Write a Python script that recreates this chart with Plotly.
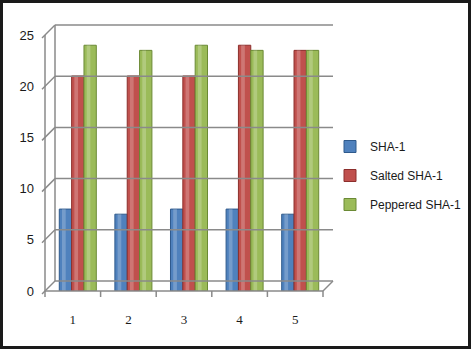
import plotly.graph_objects as go

categories = ["1", "2", "3", "4", "5"]
sha1 = [8, 7.5, 8, 8, 7.5]
salted_sha1 = [21, 21, 21, 24, 23.5]
peppered_sha1 = [24, 23.5, 24, 23.5, 23.5]
y_ticks = [0, 5, 10, 15, 20, 25]

W, H = 471, 349
FX0, FX1 = 45, 323       # front floor x extent (px)
FY0, FY1 = 291, 35       # front y for value 0 and value 25 (px)
DX, DY = 10, 10          # depth offset of back wall (px)
BAR_X0, BAR_X1 = 50, 328

def px(x):
    return x / W

def py(y):
    return 1 - y / H

def val_to_y(v):
    return FY0 + (FY1 - FY0) * v / 25.0

fig = go.Figure()
colors = ["#4F81BD", "#C0504D", "#9BBB59"]
edge_colors = ["#2f5a8c", "#8c2f2c", "#6b8a35"]
names = ["SHA-1", "Salted SHA-1", "Peppered SHA-1"]
bw = 0.222
offsets = [-1.5 * bw, -0.5 * bw, 0.5 * bw]
for name, vals, col, ecol, off in zip(names, [sha1, salted_sha1, peppered_sha1], colors, edge_colors, offsets):
    fig.add_trace(go.Bar(
        x=categories, y=vals, name=name, legendgroup=name,
        width=bw, offset=off,
        marker=dict(color=col, line=dict(color=ecol, width=1)),
    ))
    # cylinder highlight
    fig.add_trace(go.Bar(
        x=categories, y=vals, name=name, legendgroup=name, showlegend=False,
        width=bw * 0.3, offset=off + bw * 0.22, hoverinfo="skip",
        marker=dict(color="rgba(255,255,255,0.22)", line=dict(width=0)),
    ))

shapes = []
line_col = "#8a8a8a"
for t in y_ticks:
    yf = val_to_y(t)
    shapes.append(dict(type="line", xref="paper", yref="paper",
                       x0=px(FX0 + DX), x1=px(FX1 + DX), y0=py(yf - DY), y1=py(yf - DY),
                       line=dict(color=line_col, width=1.5)))
    shapes.append(dict(type="line", xref="paper", yref="paper",
                       x0=px(FX0 - 3), x1=px(FX0 + DX), y0=py(yf + 3), y1=py(yf - DY),
                       line=dict(color=line_col, width=1.5)))
shapes.append(dict(type="line", xref="paper", yref="paper",
                   x0=px(FX0 + DX), x1=px(FX0 + DX), y0=py(FY0 - DY), y1=py(FY1 - DY),
                   line=dict(color=line_col, width=1.5)))
shapes.append(dict(type="line", xref="paper", yref="paper",
                   x0=px(FX0), x1=px(FX0), y0=py(FY0), y1=py(FY1),
                   line=dict(color=line_col, width=1.5)))
shapes.append(dict(type="line", xref="paper", yref="paper",
                   x0=px(FX0), x1=px(FX1), y0=py(FY0), y1=py(FY0),
                   line=dict(color=line_col, width=1.5)))
shapes.append(dict(type="line", xref="paper", yref="paper",
                   x0=px(FX1), x1=px(FX1 + DX), y0=py(FY0), y1=py(FY0 - DY),
                   line=dict(color=line_col, width=1.5)))
n = len(categories)
for k in range(n + 1):
    xb = FX0 + (FX1 - FX0) * k / n
    shapes.append(dict(type="line", xref="paper", yref="paper",
                       x0=px(xb), x1=px(xb), y0=py(FY0), y1=py(FY0 + 6),
                       line=dict(color=line_col, width=1.5)))
shapes.append(dict(type="rect", xref="paper", yref="paper", x0=0, x1=1, y0=0, y1=1,
                   line=dict(color="#1a1a1a", width=6), layer="above"))

fig.update_layout(
    width=W, height=H,
    margin=dict(l=0, r=0, t=0, b=0, autoexpand=False),
    paper_bgcolor="white", plot_bgcolor="rgba(0,0,0,0)",
    barmode="overlay",
    shapes=shapes,
    showlegend=True,
    legend=dict(xref="container", yref="container", x=px(330), y=py(132),
                xanchor="left", yanchor="top",
                font=dict(family="Liberation Sans, Arial", size=12, color="#1a1a1a"),
                tracegroupgap=10, itemwidth=30, bgcolor="rgba(0,0,0,0)"),
    xaxis=dict(domain=[px(BAR_X0), px(BAR_X1)], showgrid=False, zeroline=False, showline=False,
               ticks="", ticklabelshift=-5, ticklabelstandoff=19,
               tickfont=dict(family="Liberation Serif, Times New Roman", size=13, color="#1a1a1a"),
               automargin=False),
    yaxis=dict(domain=[py(FY0), py(FY1)], range=[0, 25], tickvals=y_ticks,
               showgrid=False, zeroline=False, showline=False, ticks="",
               ticklabelstandoff=15,
               tickfont=dict(family="Liberation Sans, Arial", size=13, color="#1a1a1a"),
               automargin=False),
)

fig.write_html("out.html", config={"displayModeBar": False},
               post_script="document.body.style.margin='0';document.body.style.overflow='hidden';")
